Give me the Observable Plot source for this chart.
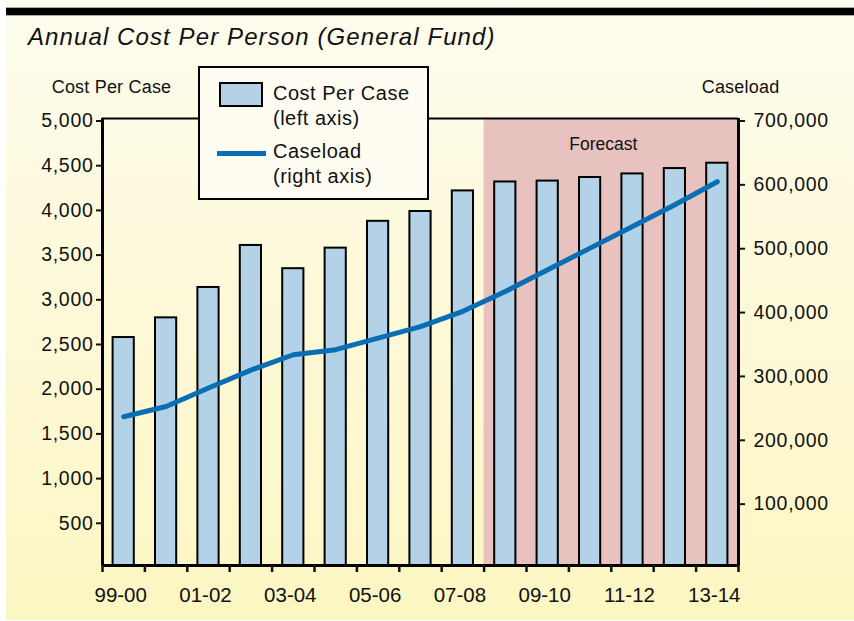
<!DOCTYPE html>
<html><head><meta charset="utf-8">
<script src="https://cdn.jsdelivr.net/npm/d3@7"></script>
<script src="https://cdn.jsdelivr.net/npm/@observablehq/plot@0.6"></script>
<style>
body{margin:0;background:#fff;}
#wrap{position:relative;width:854px;height:621px;overflow:hidden;font-family:"Liberation Sans",Arial,sans-serif;color:#111;}
#bg{position:absolute;left:6px;top:0;width:848px;height:620px;background:linear-gradient(#fefcee,#fcf6c2);}
#topbar{position:absolute;left:6px;top:8px;width:848px;height:7px;background:#000;box-shadow:0 -1px 0 #aaa,0 1px 0 #aaa;}
.t{position:absolute;white-space:nowrap;line-height:1;}
#legend{position:absolute;left:198px;top:66px;width:227px;height:130px;border:2px solid #000;background:#fffdf1;}
#chart{position:absolute;left:0;top:0;}
svg g[aria-label="y-axis tick label"] text{letter-spacing:0.7px;}
</style></head>
<body>
<div id="wrap">
  <div id="bg"></div>
  <div id="topbar"></div>
  <div class="t" style="left:28px;top:24.7px;font-size:24px;font-style:italic;letter-spacing:1.1px;">Annual Cost Per Person (General Fund)</div>
  <div class="t" style="left:51.7px;top:77.8px;font-size:18px;letter-spacing:0.2px;">Cost Per Case</div>
  <div class="t" style="left:701.7px;top:77.8px;font-size:18px;letter-spacing:0.2px;">Caseload</div>
  <div id="chart"></div>
  <div id="legend"></div>
  <div style="position:absolute;left:219px;top:82px;width:40px;height:21px;border:2px solid #000;background:#b3d2e7;"></div>
  <div style="position:absolute;left:217px;top:151px;width:49px;height:5px;background:#0a6eb4;"></div>
  <div class="t" style="left:273px;top:83.1px;font-size:20px;letter-spacing:0.5px;">Cost Per Case</div>
  <div class="t" style="left:273px;top:108.1px;font-size:20px;letter-spacing:0.5px;">(left axis)</div>
  <div class="t" style="left:273px;top:141.1px;font-size:20px;letter-spacing:0.5px;">Caseload</div>
  <div class="t" style="left:273px;top:166.1px;font-size:20px;letter-spacing:0.5px;">(right axis)</div>
</div>
<script>
const years = ["99-00","00-01","01-02","02-03","03-04","04-05","05-06","06-07","07-08","08-09","09-10","10-11","11-12","12-13","13-14"];
const costPerCase = [2550,2770,3110,3580,3320,3550,3850,3960,4190,4290,4300,4340,4380,4440,4500];
const caseload = [233000,249000,278000,306000,330000,338000,356000,374000,398000,429000,463000,497000,531000,565000,601000];
const leftTicks = [500,1000,1500,2000,2500,3000,3500,4000,4500,5000];
const rightTicks = [100000,200000,300000,400000,500000,600000,700000];
const labelYears = ["99-00","01-02","03-04","05-06","07-08","09-10","11-12","13-14"];
const forecastStart = "08-09";
const forecastLabel = "Forecast";
const costMax = 5000, caseMax = 700000;

const k = costMax / caseMax;
const n = years.length;
const rows = years.map((year, i) => ({year, i, cost: costPerCase[i], caseload: caseload[i]}));
const fIdx = years.indexOf(forecastStart);
const fmt = d3.format(",");

const chart = Plot.plot({
  width: 854, height: 621,
  marginLeft: 102, marginRight: 116, marginTop: 118, marginBottom: 56,
  style: {background: "transparent", fontFamily: "Liberation Sans, Arial, sans-serif", color: "#111", overflow: "visible"},
  x: {type: "linear", domain: [0, n]},
  y: {domain: [0, costMax]},
  marks: [
    Plot.rect([{x1: fIdx, x2: n}], {x1: "x1", x2: "x2", y1: 0, y2: costMax, fill: "#e8c2bf"}),
    Plot.text([forecastLabel], {x: (fIdx + n) / 2, y: costMax, dx: -8, dy: 26, fontSize: 17.5, fill: "#111"}),
    Plot.rect(rows, {x1: d => d.i + 0.25, x2: d => d.i + 0.75, y1: 0, y2: "cost", fill: "#b3d2e7", stroke: "#000", strokeWidth: 2}),
    Plot.line(rows, {x: d => d.i + 0.5, y: d => d.caseload * k, stroke: "#0a6eb4", strokeWidth: 5, strokeLinejoin: "round"}),
    Plot.ruleY([costMax], {stroke: "#000", strokeWidth: 2}),
    Plot.ruleY([0], {stroke: "#000", strokeWidth: 3}),
    Plot.ruleX([0, n], {stroke: "#000", strokeWidth: 3}),
    Plot.axisY(leftTicks, {anchor: "left", tickSize: 6, tickPadding: 3, fontSize: 19.5, dy: 2.5, strokeWidth: 2, tickFormat: fmt, label: null}),
    Plot.axisY(rightTicks.map(v => v * k), {anchor: "right", tickSize: 6, tickPadding: 9, fontSize: 19.5, dy: 2.5, strokeWidth: 2, tickFormat: d => fmt(Math.round(d / k)), label: null}),
    Plot.axisX(d3.range(n + 1), {tickSize: 7, tickFormat: () => "", strokeWidth: 2.5, label: null}),
    Plot.axisX(labelYears.map(y => years.indexOf(y) + 0.5), {tickSize: 0, tickPadding: 22, fontSize: 20.5, dx: -3, tickFormat: d => years[Math.floor(d)], label: null})
  ]
});
document.getElementById("chart").appendChild(chart);
</script>
</body></html>
